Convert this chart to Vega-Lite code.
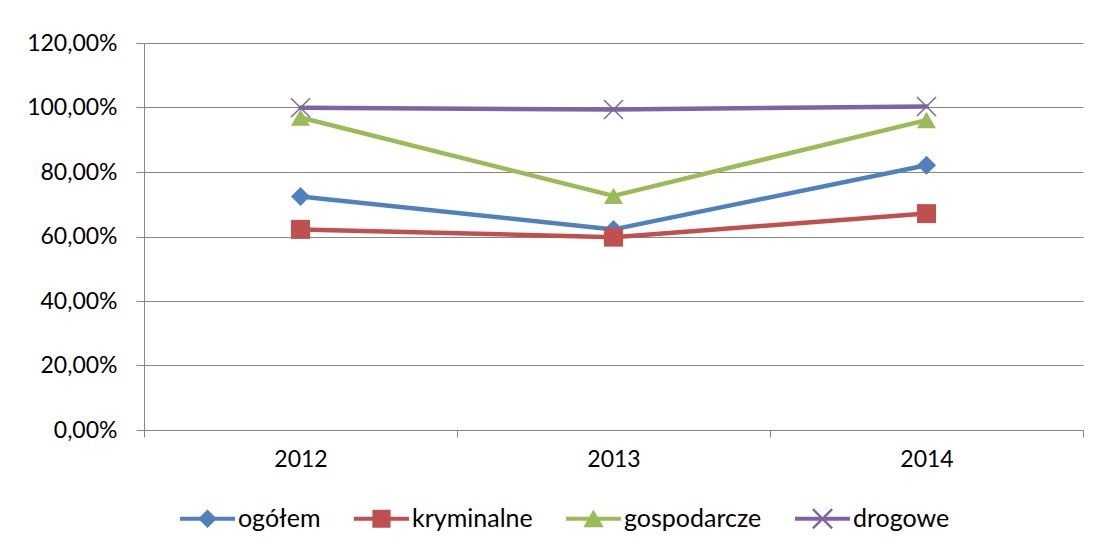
{
  "$schema": "https://vega.github.io/schema/vega-lite/v6.json",
  "width": 939,
  "height": 387,
  "autosize": {"type": "none"},
  "padding": {"left": 144, "top": 43, "right": 19, "bottom": 124},
  "background": "white",
  "config": {"view": {"stroke": null}, "font": "Lato"},
  "data": {
    "values": [
      {"rok": "2012", "kategoria": "ogółem", "wartosc": 0.724},
      {"rok": "2013", "kategoria": "ogółem", "wartosc": 0.622},
      {"rok": "2014", "kategoria": "ogółem", "wartosc": 0.821},
      {"rok": "2012", "kategoria": "kryminalne", "wartosc": 0.622},
      {"rok": "2013", "kategoria": "kryminalne", "wartosc": 0.598},
      {"rok": "2014", "kategoria": "kryminalne", "wartosc": 0.671},
      {"rok": "2012", "kategoria": "gospodarcze", "wartosc": 0.969},
      {"rok": "2013", "kategoria": "gospodarcze", "wartosc": 0.726},
      {"rok": "2014", "kategoria": "gospodarcze", "wartosc": 0.961},
      {"rok": "2012", "kategoria": "drogowe", "wartosc": 0.999},
      {"rok": "2013", "kategoria": "drogowe", "wartosc": 0.994},
      {"rok": "2014", "kategoria": "drogowe", "wartosc": 1.003}
    ]
  },
  "encoding": {
    "x": {
      "field": "rok",
      "type": "ordinal",
      "scale": {"type": "band", "paddingInner": 0, "paddingOuter": 0},
      "axis": {
        "title": null,
        "tickBand": "extent",
        "labelAngle": 0,
        "labelFont": "Lato",
        "labelFontSize": 23,
        "labelColor": "#000000",
        "labelPadding": 11,
        "tickSize": 7,
        "tickColor": "#868686",
        "domainColor": "#868686",
        "domainWidth": 1,
        "grid": false
      }
    },
    "y": {
      "field": "wartosc",
      "type": "quantitative",
      "scale": {"domain": [0, 1.2], "nice": false, "zero": true},
      "axis": {
        "title": null,
        "values": [0, 0.2, 0.4, 0.6, 0.8, 1.0, 1.2],
        "labelExpr": "replace(format(datum.value, '.2%'), '.', ',')",
        "labelFont": "Lato",
        "labelFontSize": 23,
        "labelColor": "#000000",
        "labelPadding": 19,
        "tickSize": 8,
        "tickColor": "#868686",
        "domainColor": "#868686",
        "grid": true,
        "gridColor": "#868686",
        "gridWidth": 1
      }
    },
    "color": {
      "field": "kategoria",
      "type": "nominal",
      "scale": {
        "domain": ["ogółem", "kryminalne", "gospodarcze", "drogowe"],
        "range": ["#4F81BD", "#C0504D", "#9BBB59", "#8064A2"]
      },
      "legend": {
        "orient": "none",
        "legendX": 36,
        "legendY": 448,
        "direction": "horizontal",
        "title": null,
        "symbolSize": 3025,
        "symbolStrokeWidth": 0,
        "labelFont": "Lato",
        "labelFontSize": 25,
        "labelColor": "#000000",
        "labelOffset": 3,
        "columnPadding": 33,
        "padding": 0,
        "encode": {
          "symbols": {
            "update": {
              "shape": {"signal": "datum.value === 'ogółem' ? 'M-1,-0.07L1,-0.07L1,0.07L-1,0.07Z M-0.34,0L0,-0.34L0.34,0L0,0.34Z' : datum.value === 'kryminalne' ? 'M-1,-0.07L1,-0.07L1,0.07L-1,0.07Z M-0.33,-0.33L0.33,-0.33L0.33,0.33L-0.33,0.33Z' : datum.value === 'gospodarcze' ? 'M-1,-0.07L1,-0.07L1,0.07L-1,0.07Z M0,-0.34L0.37,0.31L-0.37,0.31Z' : 'M-1,-0.07L1,-0.07L1,0.07L-1,0.07Z M-0.38,-0.32L-0.32,-0.38L0.38,0.32L0.32,0.38Z M0.32,-0.38L0.38,-0.32L-0.32,0.38L-0.38,0.32Z'"},
              "fill": {"signal": "datum.value === 'ogółem' ? '#4F81BD' : datum.value === 'kryminalne' ? '#C0504D' : datum.value === 'gospodarcze' ? '#9BBB59' : '#8064A2'"},
              "stroke": {"value": "transparent"},
              "strokeWidth": {"value": 0},
              "opacity": {"value": 1},
              "fillOpacity": {"value": 1}
            }
          }
        }
      }
    }
  },
  "layer": [
    {
      "mark": {"type": "line", "strokeWidth": 4.5, "strokeCap": "round", "strokeJoin": "round"}
    },
    {
      "transform": [{"filter": "datum.kategoria !== 'drogowe'"}],
      "mark": {"type": "point", "filled": true, "opacity": 1, "size": 361},
      "encoding": {
        "shape": {
          "field": "kategoria",
          "type": "nominal",
          "scale": {
            "domain": ["ogółem", "kryminalne", "gospodarcze"],
            "range": ["diamond", "square", "triangle-up"]
          },
          "legend": null
        }
      }
    },
    {
      "transform": [{"filter": "datum.kategoria === 'drogowe'"}],
      "mark": {"type": "point", "shape": "M-1,-1L1,1M-1,1L1,-1", "filled": false, "strokeWidth": 1.5, "size": 361, "opacity": 1}
    }
  ]
}
